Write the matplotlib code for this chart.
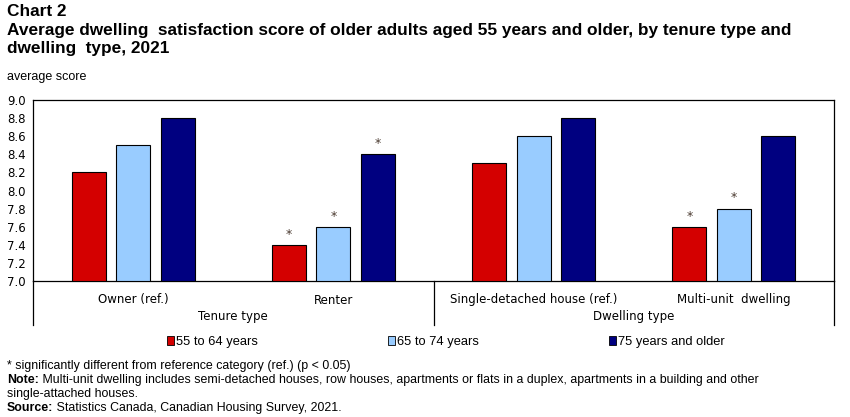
import numpy as np
import matplotlib.pyplot as plt
from matplotlib.patches import Patch

categories = ["Owner (ref.)", "Renter", "Single-detached house (ref.)", "Multi-unit  dwelling"]
groups = ["Tenure type", "Dwelling type"]
series = ["55 to 64 years", "65 to 74 years", "75 years and older"]
age_55_64 = [8.2, 7.4, 8.3, 7.6]
age_65_74 = [8.5, 7.6, 8.6, 7.8]
age_75_up = [8.8, 8.4, 8.8, 8.6]
# significance flags (* = different from reference category)
sig_55_64 = [False, True, False, True]
sig_65_74 = [False, True, False, True]
sig_75_up = [False, True, False, False]
colors = ["#d40000", "#99ccff", "#000080"]

W, H = 850, 417
fig = plt.figure(figsize=(W / 100, H / 100), dpi=100)
ax = fig.add_axes([33 / W, 1 - 281 / H, (834 - 33) / W, (281 - 100) / H])

x = np.arange(len(categories))
bw = 0.17
step = 0.222
values = [age_55_64, age_65_74, age_75_up]
sigs = [sig_55_64, sig_65_74, sig_75_up]
for i, (vals, sg) in enumerate(zip(values, sigs)):
    xs = x + (i - 1) * step
    ax.bar(xs, np.array(vals) - 7.0, bw, bottom=7.0, color=colors[i],
           edgecolor="black", linewidth=0.8, zorder=3)
    for xi, v, s in zip(xs, vals, sg):
        if s:
            ax.annotate("*", (xi, v), xytext=(0, 3), textcoords="offset points",
                        ha="center", va="bottom", fontsize=9, color="#4a3a30",
                        family="DejaVu Sans")

ax.set_xlim(-0.5, 3.5)
ax.set_ylim(7.0, 9.0)
ax.set_yticks(np.arange(7.0, 9.01, 0.2))
ax.set_yticklabels([f"{v:.1f}" for v in np.arange(7.0, 9.01, 0.2)])
ax.set_xticks(x)
ax.set_xticklabels(categories)
ax.tick_params(axis="both", length=0, labelsize=8.5, colors="black")
ax.tick_params(axis="x", pad=9)
ax.tick_params(axis="y", pad=5)
for sp in ax.spines.values():
    sp.set_linewidth(0.9)

# category separators below the axis
tr = ax.get_xaxis_transform()
for xb in [-0.5, 1.5, 3.5]:
    ax.plot([xb, xb], [0, -0.245], transform=tr, color="black", lw=0.9, clip_on=False)
for gx, g in zip([0.5, 2.5], groups):
    ax.text(gx, -0.195, g, transform=tr, ha="center", va="center", fontsize=8.5)

# titles
fig.text(7 / W, 1 - 4 / H,
         "Chart 2\nAverage dwelling  satisfaction score of older adults aged 55 years and older, by tenure type and\n"
         "dwelling  type, 2021",
         ha="left", va="top", fontsize=12.4, fontweight="bold", family="Liberation Sans",
         linespacing=1.3)
fig.text(7 / W, 1 - 77 / H, "average score", ha="left", va="center", fontsize=9,
         family="Liberation Sans")

# legend
handles = [Patch(facecolor=c, edgecolor="black", linewidth=0.6) for c in colors]
fig.legend(handles, series, loc="center left", bbox_to_anchor=(155 / W, 1 - 342 / H),
           ncol=3, frameon=False, handlelength=0.55, handleheight=0.75, handletextpad=0.15,
           columnspacing=10.1, prop={"family": "Liberation Sans", "size": 9.3})

# footnotes
fig.canvas.draw()
rend = fig.canvas.get_renderer()
fs = 8.9
fig.text(7 / W, 1 - 366 / H, "* significantly different from reference category (ref.) (p < 0.05)",
         ha="left", va="center", fontsize=fs, family="Liberation Sans")
notes = [
    ("Note:", " Multi-unit dwelling includes semi-detached houses, row houses, apartments or flats in a duplex, apartments in a building and other", 380),
    ("", "single-attached houses.", 394),
    ("Source:", " Statistics Canada, Canadian Housing Survey, 2021.", 408),
]
for bold, rest, yp in notes:
    x0 = 7
    if bold:
        t = fig.text(x0 / W, 1 - yp / H, bold, ha="left", va="center", fontsize=fs,
                     fontweight="bold", family="Liberation Sans")
        x0 = t.get_window_extent(rend).x1
    fig.text(x0 / W, 1 - yp / H, rest, ha="left", va="center", fontsize=fs,
             family="Liberation Sans")

fig.savefig("out.png", dpi=100)
